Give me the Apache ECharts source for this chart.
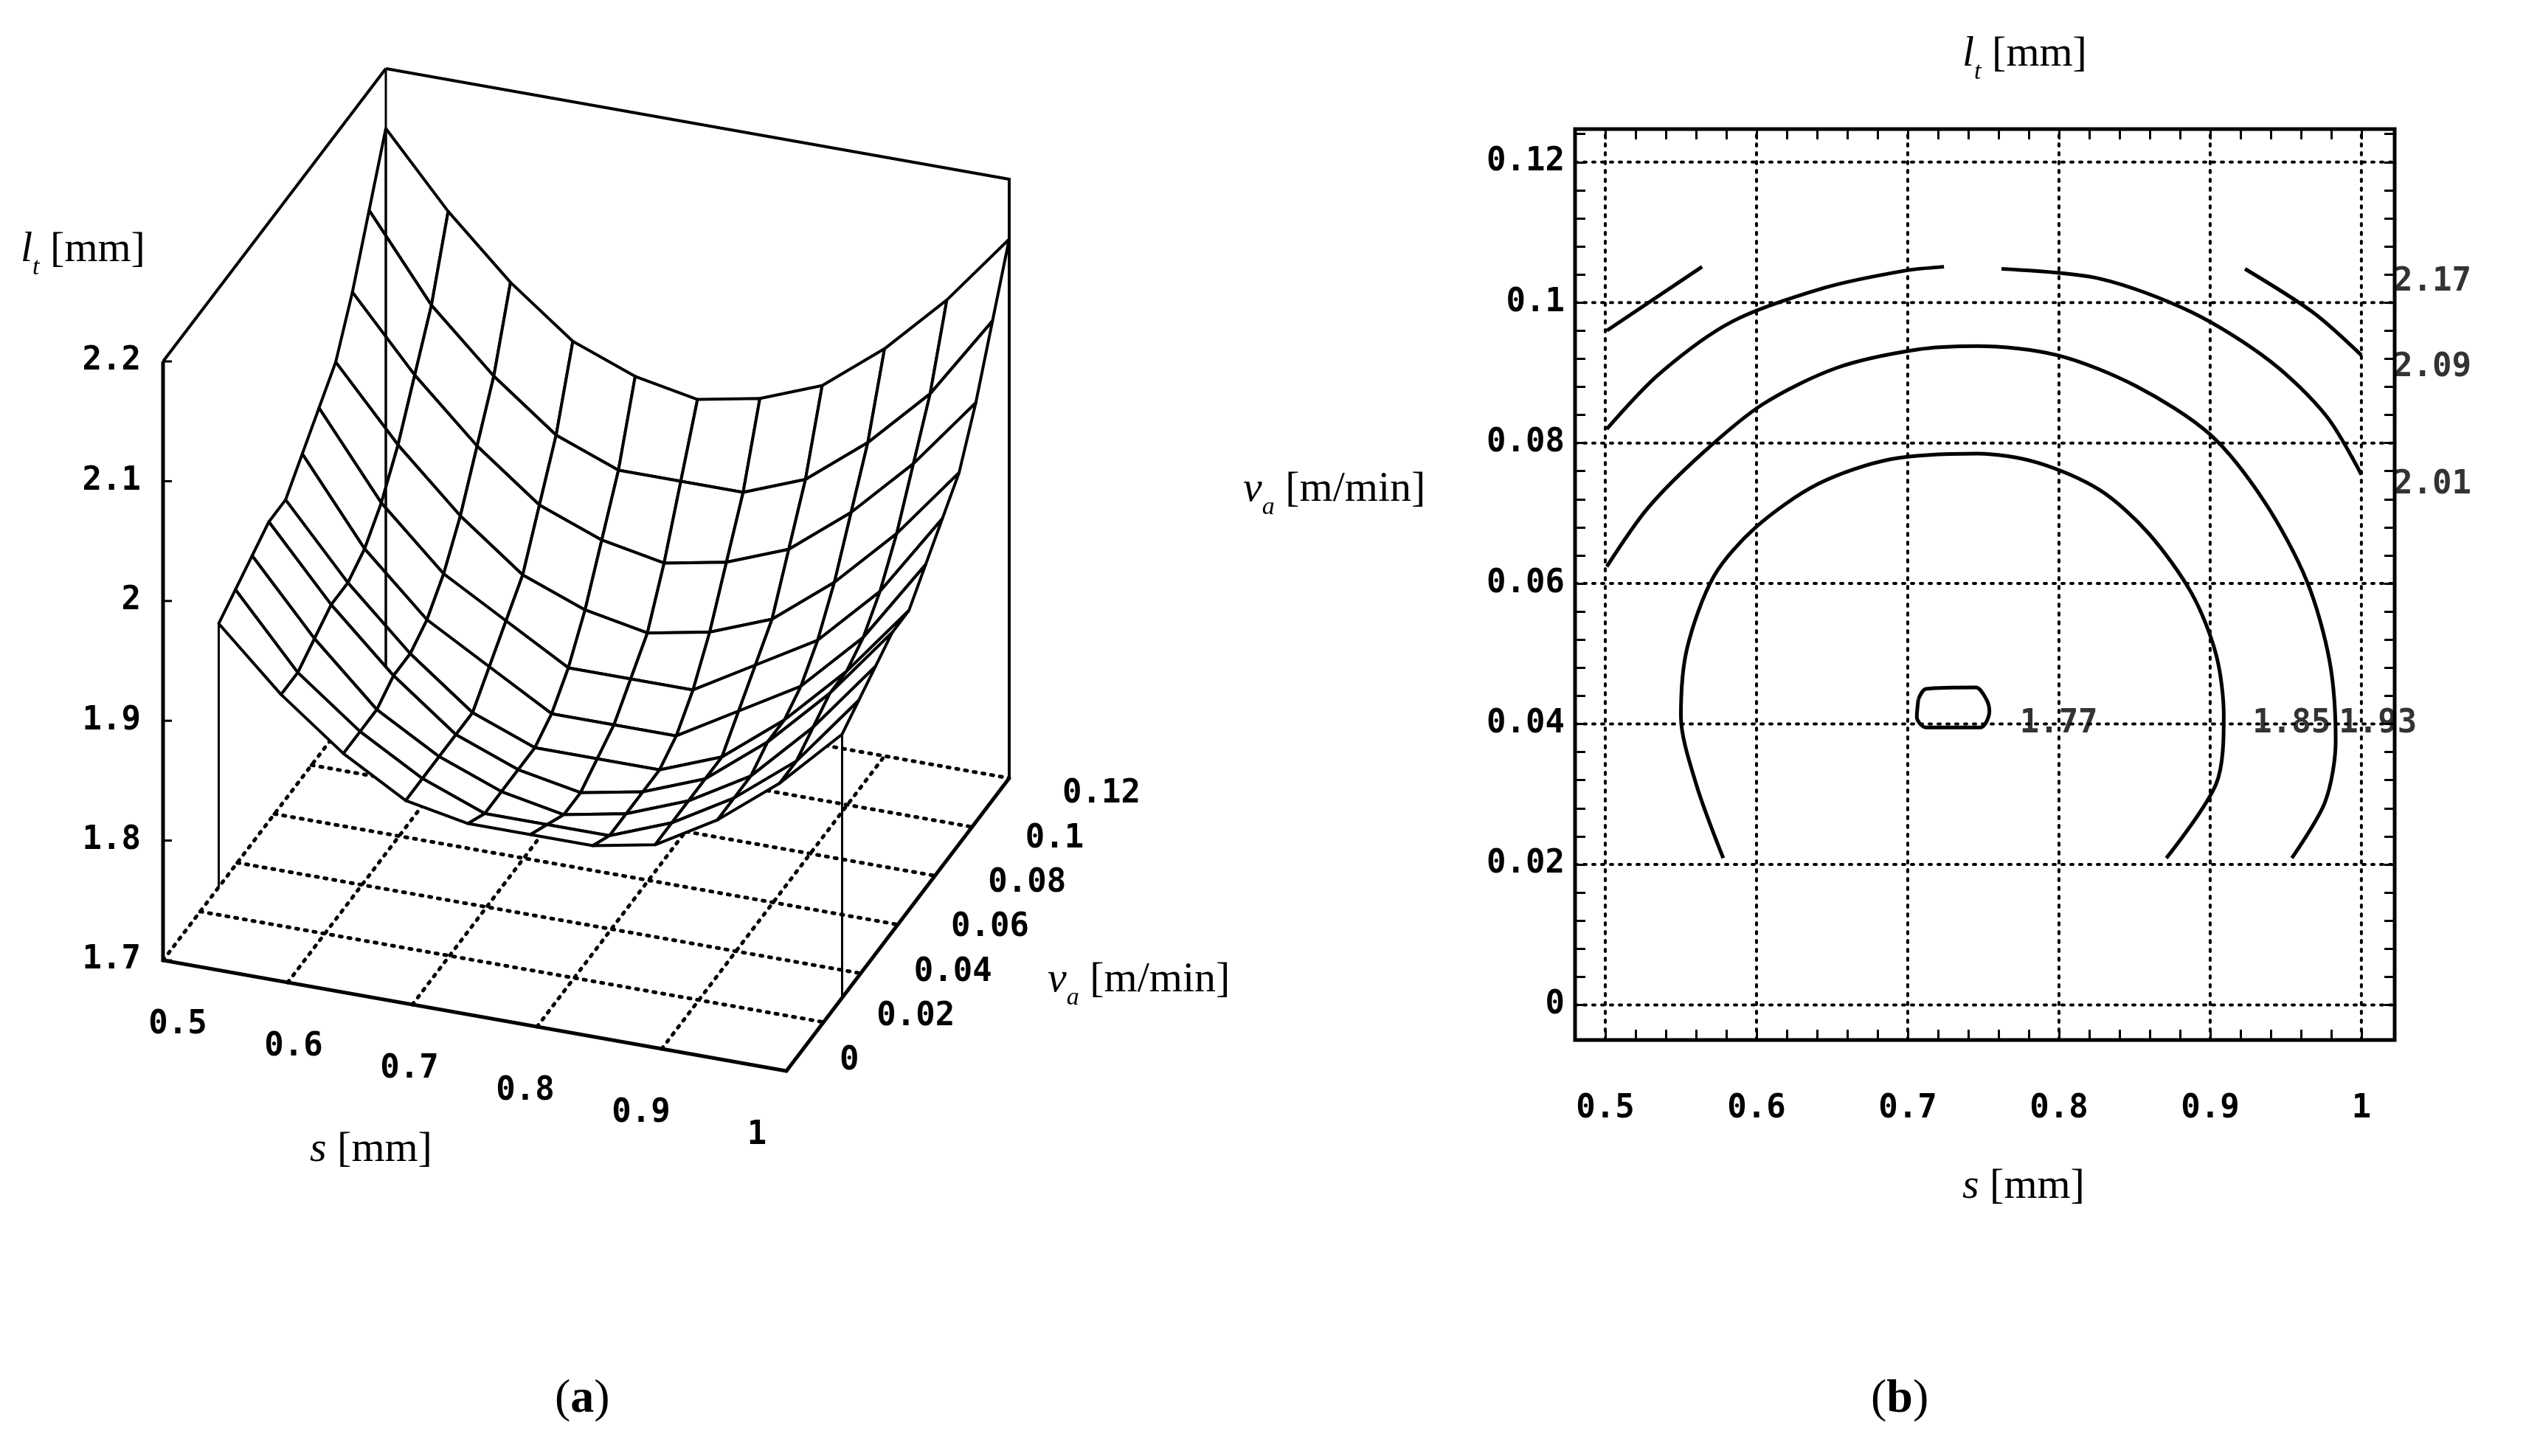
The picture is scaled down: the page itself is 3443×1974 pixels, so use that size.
<!DOCTYPE html>
<html><head><meta charset="utf-8">
<script src="https://cdn.jsdelivr.net/npm/echarts@6/dist/echarts.min.js"></script>
<style>html,body{margin:0;background:#fff}#c{width:3443px;height:1974px}</style>
</head><body><div id="c"></div>
<script>
// ---- 3D surface data (panel a) ----
const S_GRID = [0.5,0.55,0.6,0.65,0.7,0.75,0.8,0.85,0.9,0.95,1.0];
const VA_GRID = [0.03,0.039,0.048,0.057,0.066,0.075,0.084,0.093,0.102,0.111,0.12];
const LT_GRID = [ // rows: VA_GRID, cols: S_GRID
 [1.92,1.87,1.83,1.80,1.79,1.79,1.79,1.80,1.83,1.87,1.92],
 [1.93,1.87,1.83,1.80,1.78,1.78,1.78,1.80,1.83,1.87,1.93],
 [1.94,1.88,1.83,1.80,1.78,1.77,1.78,1.80,1.83,1.88,1.94],
 [1.95,1.89,1.84,1.80,1.78,1.77,1.78,1.80,1.84,1.89,1.95],
 [1.95,1.89,1.84,1.80,1.78,1.78,1.78,1.80,1.84,1.89,1.95],
 [1.97,1.90,1.85,1.82,1.79,1.79,1.79,1.82,1.85,1.90,1.97],
 [1.99,1.92,1.87,1.84,1.81,1.81,1.81,1.84,1.87,1.92,1.99],
 [2.01,1.95,1.90,1.86,1.84,1.83,1.84,1.86,1.90,1.95,2.01],
 [2.05,1.99,1.94,1.90,1.88,1.87,1.88,1.90,1.94,1.99,2.05],
 [2.10,2.03,1.98,1.94,1.92,1.92,1.92,1.94,1.98,2.03,2.10],
 [2.15,2.09,2.04,2.00,1.98,1.97,1.98,2.00,2.04,2.09,2.15]
];
const S_TICKS = [0.5,0.6,0.7,0.8,0.9,1];
const VA_TICKS = [0,0.02,0.04,0.06,0.08,0.1,0.12];
const LT_TICKS = [1.7,1.8,1.9,2,2.1,2.2];
const S_TICK_LABELS = ['0.5','0.6','0.7','0.8','0.9','1'];
const VA_TICK_LABELS = ['0','0.02','0.04','0.06','0.08','0.1','0.12'];
const LT_TICK_LABELS = ['1.7','1.8','1.9','2','2.1','2.2'];

// ---- contour data (panel b) ----
const C185 = [[0.578,0.0209],[0.560,0.0315],[0.550,0.0411],[0.554,0.0507],[0.572,0.0611],[0.600,0.0681],[0.641,0.0742],[0.689,0.0777],[0.746,0.0785],[0.786,0.0772],[0.827,0.0733],[0.859,0.0672],[0.888,0.0585],[0.904,0.0498],[0.909,0.0411],[0.904,0.0315],[0.871,0.0209]];
const C193 = [[0.501,0.0624],[0.528,0.0707],[0.564,0.0785],[0.604,0.0855],[0.653,0.0907],[0.706,0.0933],[0.746,0.0938],[0.799,0.0925],[0.851,0.0881],[0.900,0.0812],[0.936,0.0716],[0.964,0.0603],[0.979,0.0489],[0.983,0.0376],[0.976,0.0289],[0.954,0.0209]];
const C201_L = [[0.501,0.0820],[0.536,0.0899],[0.584,0.0973],[0.645,0.1021],[0.697,0.1045],[0.724,0.1051]];
const C201_R = [[0.762,0.1048],[0.827,0.1034],[0.888,0.0986],[0.940,0.0916],[0.977,0.0838],[1.000,0.0755]];
const C209_L = [[0.501,0.0960],[0.564,0.1051]];
const C209_R = [[0.923,0.1048],[0.968,0.0986],[1.000,0.0925]];
const C177 = [[0.707,0.0435],[0.712,0.0450],[0.745,0.0452],[0.752,0.0435],[0.754,0.0418],[0.748,0.0395],[0.712,0.0395],[0.706,0.0410],[0.707,0.0435]];
const CONTOUR_LABELS = [
 {v:'2.17', p:[1.021,0.1029]},{v:'2.09', p:[1.021,0.0907]},{v:'2.01', p:[1.021,0.0740]},
 {v:'1.77', p:[0.774,0.040]},{v:'1.85', p:[0.928,0.040]},{v:'1.93', p:[0.985,0.040]}
];

const TICKFONT = 'bold 44px "DejaVu Sans Mono"';
const SERIF = '"Liberation Serif"';

function proj(s, va, z){
  const sn=(s-0.5)/0.5, vn=va/0.12, zn=(z-1.7)/0.5;
  return [221+sn*845+vn*302, 1302+sn*150-vn*397-zn*812];
}
function line(api, pts, style){
  return {type:'polyline', shape:{points:pts.map(p=>api.coord(proj(p[0],p[1],p[2])))}, style:Object.assign({fill:null,stroke:'#000',lineWidth:4},style)};
}
const dotted = {lineDash:[3,9], lineWidth:5, lineCap:'round'};

function renderBack(params, api){
  const ch=[];
  S_TICKS.slice(1,-1).forEach(s=>ch.push(line(api,[[s,0,1.7],[s,0.12,1.7]],dotted)));
  VA_TICKS.slice(1,-1).forEach(v=>ch.push(line(api,[[0.5,v,1.7],[1,v,1.7]],dotted)));
  ch.push(line(api,[[0.5,0,1.7],[0.5,0.12,1.7],[1,0.12,1.7]],dotted));
  ch.push(line(api,[[0.5,0.12,2.2],[1,0.12,2.2],[1,0.12,1.7]]));
  ch.push(line(api,[[0.5,0,2.2],[0.5,0.12,2.2]]));
  return {type:'group', children:ch};
}
function renderSurface(params, api){
  const quads=[];
  for(let j=0;j<VA_GRID.length-1;j++) for(let i=0;i<S_GRID.length-1;i++){
    const sn=((S_GRID[i]+S_GRID[i+1])/2-0.5)/0.5, vn=((VA_GRID[j]+VA_GRID[j+1])/2)/0.12;
    quads.push({i,j,d:150*sn-397*vn});
  }
  quads.sort((a,b)=>a.d-b.d);
  const ch=quads.map(q=>{
    const {i,j}=q;
    const pts=[[i,j],[i+1,j],[i+1,j+1],[i,j+1]].map(([a,b])=>api.coord(proj(S_GRID[a],VA_GRID[b],LT_GRID[b][a])));
    return {type:'polygon', shape:{points:pts}, style:{fill:'#fff',stroke:'#000',lineWidth:4,lineJoin:'round'}};
  });
  return {type:'group', children:ch};
}
function renderFront(params, api){
  const ch=[];
  const nS=S_GRID.length-1, nV=VA_GRID.length-1;
  [[0,0],[nS,0],[0,nV],[nS,nV]].forEach(([a,b])=>{
    ch.push(line(api,[[S_GRID[a],VA_GRID[b],LT_GRID[b][a]],[S_GRID[a],VA_GRID[b],1.7]],{lineWidth:3}));
  });
  ch.push(line(api,[[0.5,0.12,2.2],[0.5,0.12,1.7]],{lineWidth:3}));
  ch.push(line(api,[[0.5,0,2.2],[0.5,0,1.7],[1,0,1.7],[1,0.12,1.7]],{lineWidth:5}));
  LT_TICKS.forEach((z,k)=>{
    const p=api.coord(proj(0.5,0,z));
    ch.push({type:'text',style:{text:LT_TICK_LABELS[k],x:p[0]-30,y:p[1],font:TICKFONT,fill:'#000',align:'right',verticalAlign:'middle'}});
    ch.push({type:'line',shape:{x1:p[0],y1:p[1],x2:p[0]+12,y2:p[1]},style:{stroke:'#000',lineWidth:3}});
  });
  S_TICKS.forEach((s,k)=>{
    const p=api.coord(proj(s,0,1.7));
    const sn=(s-0.5)/0.5;
    ch.push({type:'text',style:{text:S_TICK_LABELS[k],x:p[0]+20-60*sn,y:p[1]+88,font:TICKFONT,fill:'#000',align:'center',verticalAlign:'middle'}});
  });
  VA_TICKS.forEach((v,k)=>{
    const p=api.coord(proj(1,v,1.7));
    ch.push({type:'text',style:{text:VA_TICK_LABELS[k],x:p[0]+72,y:p[1]-13+35*(v/0.12),font:TICKFONT,fill:'#000',align:'left',verticalAlign:'middle'}});
  });
  return {type:'group', children:ch};
}

const minorX=[]; for(let k=0;k<=26;k++) minorX.push(+(0.48+k*0.02).toFixed(2));
const minorY=[]; for(let k=0;k<=31;k++) minorY.push(+(k*0.004).toFixed(3));

const gridLineStyle={color:'#000',width:4,type:[3,9],cap:'round'};
const gridSeries=[];
S_TICKS.forEach(s=>gridSeries.push({type:'line',xAxisIndex:1,yAxisIndex:2,data:[[s,-0.005],[s,0.1247]],symbol:'none',lineStyle:gridLineStyle,silent:true}));
VA_TICKS.forEach(v=>gridSeries.push({type:'line',xAxisIndex:1,yAxisIndex:2,data:[[0.48,v],[1.022,v]],symbol:'none',lineStyle:gridLineStyle,silent:true}));
const contourSeries=[C177,C185,C193,C201_L,C201_R,C209_L,C209_R].map(d=>({type:'line',xAxisIndex:1,yAxisIndex:2,data:d,symbol:'none',smooth:0.3,lineStyle:{color:'#000',width:5},silent:true}));

function tickAxis(extra, custom){
  return Object.assign({type:'value',gridIndex:1,axisLine:{show:false,onZero:false},splitLine:{show:false},
    axisTick:{show:true,inside:true,length:14,lineStyle:{color:'#000',width:3},customValues:custom}},extra);
}
const labelStyle={fontFamily:'DejaVu Sans Mono',fontWeight:'bold',fontSize:44,color:'#000'};

const chart=echarts.init(document.getElementById('c'));
chart.setOption({
  backgroundColor:'#fff',
  animation:false,
  grid:[
    {left:0,top:0,width:3443,height:1974,show:false},
    {left:2135,top:175,width:1111,height:1235,show:true,borderColor:'#000',borderWidth:5,backgroundColor:'transparent'}
  ],
  xAxis:[
    {type:'value',gridIndex:0,min:0,max:3443,show:false},
    tickAxis({min:0.48,max:1.022,position:'bottom',
      axisLabel:Object.assign({customValues:S_TICKS,formatter:v=>S_TICK_LABELS[S_TICKS.indexOf(+v.toFixed(2))],margin:72},labelStyle)},minorX),
    tickAxis({min:0.48,max:1.022,position:'top',axisLabel:{show:false}},minorX)
  ],
  yAxis:[
    {type:'value',gridIndex:0,min:0,max:1974,inverse:true,show:false},
    tickAxis({min:-0.005,max:0.1247,position:'left',
      axisLabel:Object.assign({customValues:VA_TICKS,formatter:v=>VA_TICK_LABELS[VA_TICKS.indexOf(+v.toFixed(3))],margin:14},labelStyle)},minorY),
    tickAxis({min:-0.005,max:0.1247,position:'right',axisLabel:{show:false}},minorY)
  ],
  series:[
    {type:'custom',xAxisIndex:0,yAxisIndex:0,data:[0],renderItem:renderBack,silent:true,z:1},
    {type:'custom',xAxisIndex:0,yAxisIndex:0,data:[0],renderItem:renderSurface,silent:true,z:2},
    {type:'custom',xAxisIndex:0,yAxisIndex:0,data:[0],renderItem:renderFront,silent:true,z:3},
    ...gridSeries,
    ...contourSeries,
    {type:'scatter',xAxisIndex:1,yAxisIndex:2,symbolSize:0,clip:false,silent:true,
     data:CONTOUR_LABELS.map(c=>({value:c.p,name:c.v})),
     label:Object.assign({show:true,position:[0,0],formatter:p=>p.name,align:'left',verticalAlign:'middle'},labelStyle)}
  ],
  graphic:[
    {type:'text',left:28,top:310,style:{text:'{i|l}{sub|t}{n| [mm]}',rich:{
      i:{fontFamily:SERIF,fontStyle:'italic',fontSize:58,verticalAlign:'bottom',padding:[0,0,12,0]},
      sub:{fontFamily:SERIF,fontStyle:'italic',fontSize:34,verticalAlign:'bottom'},
      n:{fontFamily:SERIF,fontSize:58,verticalAlign:'bottom',padding:[0,0,12,0]}}}},
    {type:'text',left:420,top:1530,style:{text:'{i|s}{n| [mm]}',rich:{
      i:{fontFamily:SERIF,fontStyle:'italic',fontSize:58},n:{fontFamily:SERIF,fontSize:58}}}},
    {type:'text',left:1420,top:1300,style:{text:'{i|v}{sub|a}{n| [m/min]}',rich:{
      i:{fontFamily:SERIF,fontStyle:'italic',fontSize:58,verticalAlign:'bottom',padding:[0,0,12,0]},
      sub:{fontFamily:SERIF,fontStyle:'italic',fontSize:34,verticalAlign:'bottom'},
      n:{fontFamily:SERIF,fontSize:58,verticalAlign:'bottom',padding:[0,0,12,0]}}}},
    {type:'text',left:2660,top:45,style:{text:'{i|l}{sub|t}{n| [mm]}',rich:{
      i:{fontFamily:SERIF,fontStyle:'italic',fontSize:58,verticalAlign:'bottom',padding:[0,0,12,0]},
      sub:{fontFamily:SERIF,fontStyle:'italic',fontSize:34,verticalAlign:'bottom'},
      n:{fontFamily:SERIF,fontSize:58,verticalAlign:'bottom',padding:[0,0,12,0]}}}},
    {type:'text',left:1685,top:635,style:{text:'{i|v}{sub|a}{n| [m/min]}',rich:{
      i:{fontFamily:SERIF,fontStyle:'italic',fontSize:58,verticalAlign:'bottom',padding:[0,0,12,0]},
      sub:{fontFamily:SERIF,fontStyle:'italic',fontSize:34,verticalAlign:'bottom'},
      n:{fontFamily:SERIF,fontSize:58,verticalAlign:'bottom',padding:[0,0,12,0]}}}},
    {type:'text',left:2660,top:1580,style:{text:'{i|s}{n| [mm]}',rich:{
      i:{fontFamily:SERIF,fontStyle:'italic',fontSize:58},n:{fontFamily:SERIF,fontSize:58}}}},
    {type:'text',left:752,top:1865,style:{text:'{p|(}{b|a}{p|)}',rich:{p:{fontFamily:SERIF,fontSize:64},b:{fontFamily:SERIF,fontSize:64,fontWeight:'bold'}}}},
    {type:'text',left:2536,top:1865,style:{text:'{p|(}{b|b}{p|)}',rich:{p:{fontFamily:SERIF,fontSize:64},b:{fontFamily:SERIF,fontSize:64,fontWeight:'bold'}}}}
  ]
});
</script></body></html>
